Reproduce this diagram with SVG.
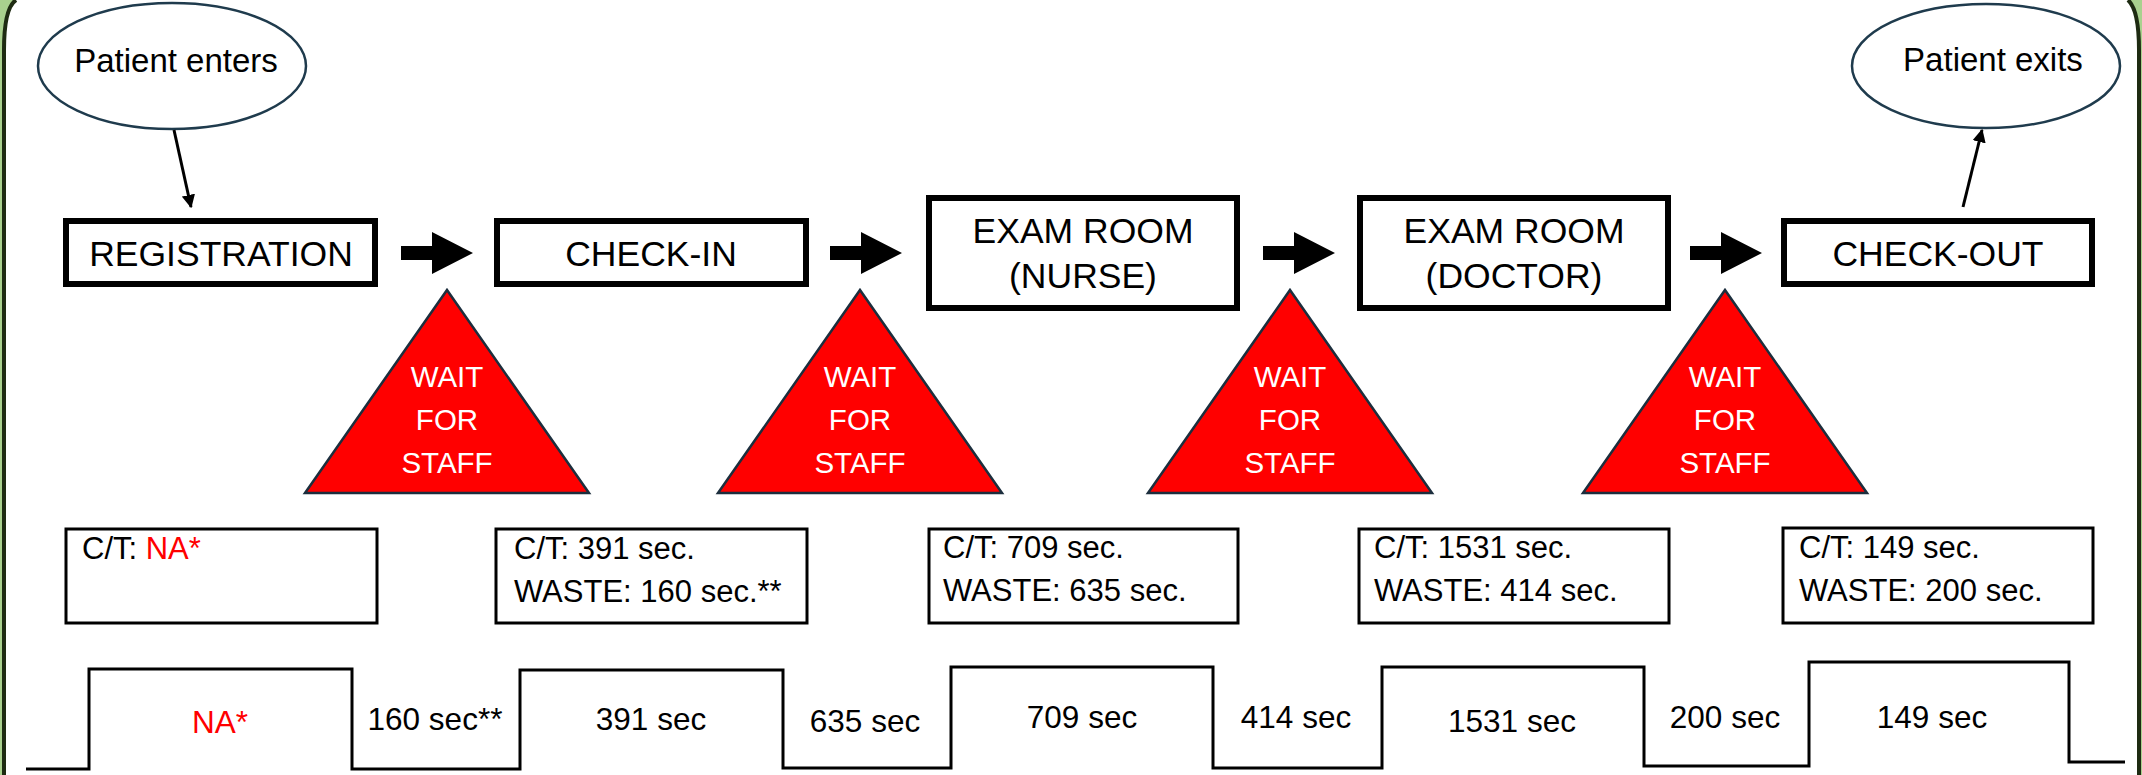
<svg xmlns="http://www.w3.org/2000/svg" width="2142" height="775" viewBox="0 0 2142 775">
<style>
  text { font-family: "Liberation Sans", Arial, sans-serif; fill: #000; }
  .box { fill: #fff; stroke: #000; stroke-width: 6; }
  .info { fill: #fff; stroke: #000; stroke-width: 3; }
  .oval { fill: #fff; stroke: #1f3b4d; stroke-width: 2.5; }
  .tri { fill: #ff0000; stroke: #1c2e3d; stroke-width: 2.5; stroke-linejoin: miter; }
  .boxtxt { font-size: 35.5px; text-anchor: middle; }
  .ovtxt { font-size: 33px; text-anchor: middle; }
  .tritxt { font-size: 29.5px; text-anchor: middle; fill: #fff; }
  .infotxt { font-size: 31px; }
  .steptxt { font-size: 31.5px; text-anchor: middle; }
  .red { fill: #ff0000; }
  .thin { fill: none; stroke: #000; stroke-width: 3; }
  .block { fill: #000; }
  .frame { fill: none; stroke: #1e2b12; stroke-width: 4; }
  .framefill { fill: #a9d18e; }
</style>
<defs>
  <marker id="ah" viewBox="0 0 10 10" refX="9" refY="5" markerWidth="4.5" markerHeight="4.5" orient="auto" markerUnits="strokeWidth">
    <path d="M0,0 L10,5 L0,10 Z" fill="#000"/>
  </marker>
</defs>

<rect width="2142" height="775" fill="#fff"/>

<!-- frame -->
<g id="frame">
  <path class="framefill" d="M0,0 H16 Q4,8 4,50 V775 H0 Z"/>
  <path class="frame" d="M16,0 Q4,8 4,50 V775"/>
  <path class="framefill" d="M2142,0 H2128 Q2139,10 2139,50 V775 H2142 Z"/>
  <path class="frame" d="M2128,0 Q2139,10 2139,50 V775"/>
</g>

<!-- start / end ovals -->
<g id="enter">
  <ellipse class="oval" cx="172" cy="66" rx="134" ry="63"/>
  <text class="ovtxt" x="176" y="72">Patient enters</text>
</g>
<g id="exit">
  <ellipse class="oval" cx="1986" cy="66" rx="134" ry="62"/>
  <text class="ovtxt" x="1993" y="71">Patient exits</text>
</g>

<!-- process boxes -->
<g id="registration">
  <rect class="box" x="66" y="221" width="309" height="63"/>
  <text class="boxtxt" x="221" y="266">REGISTRATION</text>
</g>
<g id="checkin">
  <rect class="box" x="497" y="221" width="309" height="63"/>
  <text class="boxtxt" x="651" y="266">CHECK-IN</text>
</g>
<g id="exam-nurse">
  <rect class="box" x="929" y="198" width="308" height="110"/>
  <text class="boxtxt" x="1083" y="243">EXAM ROOM</text>
  <text class="boxtxt" x="1083" y="288">(NURSE)</text>
</g>
<g id="exam-doctor">
  <rect class="box" x="1360" y="198" width="308" height="110"/>
  <text class="boxtxt" x="1514" y="243">EXAM ROOM</text>
  <text class="boxtxt" x="1514" y="288">(DOCTOR)</text>
</g>
<g id="checkout">
  <rect class="box" x="1784" y="221" width="308" height="63"/>
  <text class="boxtxt" x="1938" y="266">CHECK-OUT</text>
</g>

<!-- wait triangles -->
<g id="wait1">
  <polygon class="tri" points="447,290 589,493 305,493"/>
  <text class="tritxt" x="447" y="387">WAIT</text>
  <text class="tritxt" x="447" y="430">FOR</text>
  <text class="tritxt" x="447" y="473">STAFF</text>
</g>
<g id="wait2">
  <polygon class="tri" points="860,290 1002,493 718,493"/>
  <text class="tritxt" x="860" y="387">WAIT</text>
  <text class="tritxt" x="860" y="430">FOR</text>
  <text class="tritxt" x="860" y="473">STAFF</text>
</g>
<g id="wait3">
  <polygon class="tri" points="1290,290 1432,493 1148,493"/>
  <text class="tritxt" x="1290" y="387">WAIT</text>
  <text class="tritxt" x="1290" y="430">FOR</text>
  <text class="tritxt" x="1290" y="473">STAFF</text>
</g>
<g id="wait4">
  <polygon class="tri" points="1725,290 1867,493 1583,493"/>
  <text class="tritxt" x="1725" y="387">WAIT</text>
  <text class="tritxt" x="1725" y="430">FOR</text>
  <text class="tritxt" x="1725" y="473">STAFF</text>
</g>

<!-- info boxes -->
<g id="info-registration">
  <rect class="info" x="66" y="529" width="311" height="94"/>
  <text class="infotxt" x="82" y="559">C/T: <tspan class="red">NA*</tspan></text>
</g>
<g id="info-checkin">
  <rect class="info" x="496" y="529" width="311" height="94"/>
  <text class="infotxt" x="514" y="559">C/T: 391 sec.</text>
  <text class="infotxt" x="514" y="602">WASTE: 160 sec.**</text>
</g>
<g id="info-nurse">
  <rect class="info" x="929" y="529" width="309" height="94"/>
  <text class="infotxt" x="943" y="558">C/T: 709 sec.</text>
  <text class="infotxt" x="943" y="601">WASTE: 635 sec.</text>
</g>
<g id="info-doctor">
  <rect class="info" x="1359" y="529" width="310" height="94"/>
  <text class="infotxt" x="1374" y="558">C/T: 1531 sec.</text>
  <text class="infotxt" x="1374" y="601">WASTE: 414 sec.</text>
</g>
<g id="info-checkout">
  <rect class="info" x="1783" y="528" width="310" height="95"/>
  <text class="infotxt" x="1799" y="558">C/T: 149 sec.</text>
  <text class="infotxt" x="1799" y="601">WASTE: 200 sec.</text>
</g>

<!-- timeline -->
<g id="timeline">
  <path class="thin" d="M26,769 H89 V669 H352 V769 H520 V670 H783 V768 H951 V667 H1213 V768 H1382 V667 H1644 V766 H1809 V662 H2069 V762 H2125"/>
  <text class="steptxt red" x="220" y="733">NA*</text>
  <text class="steptxt" x="435" y="730">160 sec**</text>
  <text class="steptxt" x="651" y="730">391 sec</text>
  <text class="steptxt" x="865" y="732">635 sec</text>
  <text class="steptxt" x="1082" y="728">709 sec</text>
  <text class="steptxt" x="1296" y="728">414 sec</text>
  <text class="steptxt" x="1512" y="732">1531 sec</text>
  <text class="steptxt" x="1725" y="728">200 sec</text>
  <text class="steptxt" x="1932" y="728">149 sec</text>
</g>

<!-- connectors -->
<g id="connectors">
  <line class="thin" x1="174" y1="130" x2="191" y2="207" marker-end="url(#ah)"/>
  <line class="thin" x1="1963" y1="207" x2="1982" y2="130" marker-end="url(#ah)"/>
  <polygon class="block" points="401,246 432,246 432,232 473,253 432,274 432,260 401,260"/>
  <polygon class="block" points="830,246 861,246 861,232 902,253 861,274 861,260 830,260"/>
  <polygon class="block" points="1263,246 1294,246 1294,232 1335,253 1294,274 1294,260 1263,260"/>
  <polygon class="block" points="1690,246 1721,246 1721,232 1762,253 1721,274 1721,260 1690,260"/>
</g>
</svg>
